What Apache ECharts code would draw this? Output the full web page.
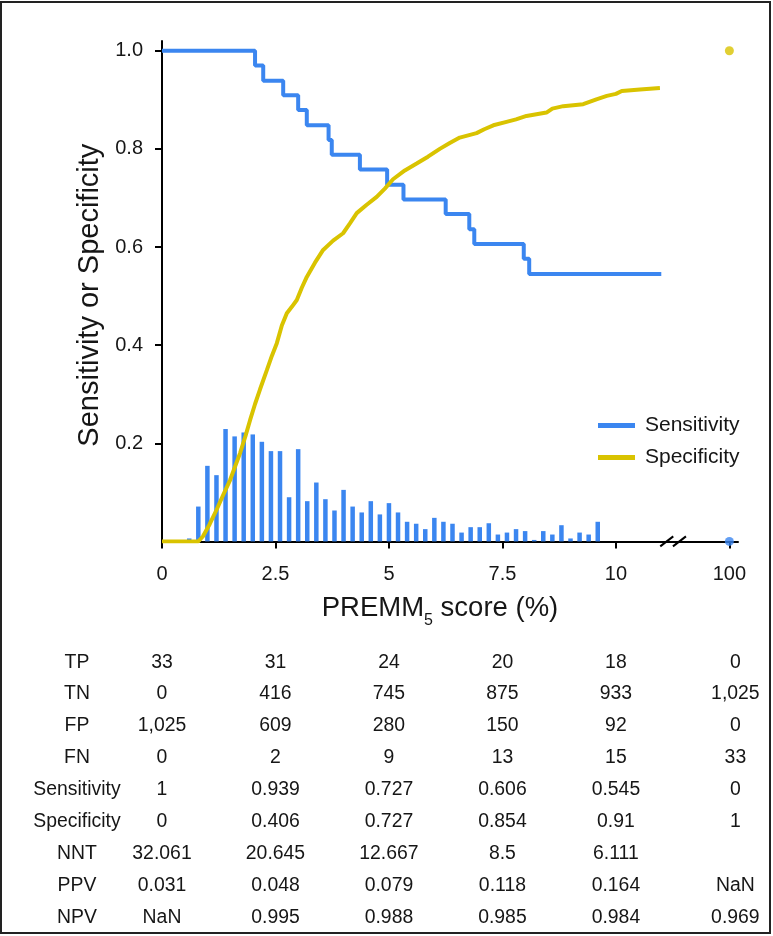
<!DOCTYPE html>
<html><head><meta charset="utf-8">
<script src="https://cdn.jsdelivr.net/npm/echarts@6/dist/echarts.min.js"></script>
<style>
html,body{margin:0;padding:0;background:#fff}
#c{width:773px;height:936px}
#frame{position:absolute;left:0;top:1px;width:771px;height:933px;border:2px solid #222;box-sizing:border-box;pointer-events:none}
</style></head>
<body><div id="c"></div><div id="frame"></div>
<script>
// ---------------- data ----------------
const xTickValues = [0, 2.5, 5, 7.5, 10, 100];
const yTickValues = [0.2, 0.4, 0.6, 0.8, 1.0];

const sensX = [0, 2.05, 2.23, 2.67, 3.0, 3.19, 3.67, 3.74, 4.36, 4.96, 5.32, 6.25, 6.77, 6.88, 7.97, 8.09, 11.0];
const sensY = [1, 0.970, 0.939, 0.909, 0.879, 0.848, 0.818, 0.788, 0.758, 0.727, 0.697, 0.667, 0.636, 0.606, 0.576, 0.545, 0.545];

const specX = [0, 0.5, 0.8, 0.9, 1.05, 1.2, 1.35, 1.5, 1.6, 1.72, 1.84, 1.94, 2.05, 2.16, 2.31, 2.42, 2.53, 2.64, 2.75, 2.86, 2.97, 3.08, 3.19, 3.37, 3.55, 3.77, 3.99, 4.14, 4.29, 4.51, 4.73, 4.91, 5.09, 5.35, 5.61, 5.86, 6.12, 6.34, 6.56, 6.93, 7.1, 7.3, 7.59, 7.8, 8.03, 8.47, 8.6, 8.84, 9.28, 9.57, 9.8, 10.0, 10.13, 10.53, 10.97];
const specY = [0, 0, 0, 0.01, 0.035, 0.064, 0.095, 0.125, 0.15, 0.18, 0.215, 0.247, 0.28, 0.31, 0.349, 0.378, 0.404, 0.44, 0.465, 0.478, 0.492, 0.517, 0.539, 0.568, 0.594, 0.613, 0.628, 0.648, 0.669, 0.686, 0.702, 0.719, 0.738, 0.756, 0.770, 0.784, 0.800, 0.812, 0.823, 0.832, 0.840, 0.848, 0.855, 0.860, 0.867, 0.874, 0.882, 0.887, 0.891, 0.901, 0.908, 0.912, 0.918, 0.921, 0.924];

const endPointX = [100];
const endSens = [0];
const endSpec = [1];

const histX = [0.6, 0.8, 1.0, 1.2, 1.4, 1.6, 1.8, 2.0, 2.2, 2.4, 2.6, 2.8, 3.0, 3.2, 3.4, 3.6, 3.8, 4.0, 4.2, 4.4, 4.6, 4.8, 5.0, 5.2, 5.4, 5.6, 5.8, 6.0, 6.2, 6.4, 6.6, 6.8, 7.0, 7.2, 7.4, 7.6, 7.8, 8.0, 8.2, 8.4, 8.6, 8.8, 9.0, 9.2, 9.4, 9.6];
const histY = [0.006, 0.071, 0.154, 0.135, 0.229, 0.214, 0.222, 0.218, 0.203, 0.184, 0.184, 0.090, 0.188, 0.082, 0.120, 0.086, 0.063, 0.105, 0.071, 0.059, 0.082, 0.055, 0.078, 0.059, 0.040, 0.036, 0.025, 0.048, 0.040, 0.036, 0.018, 0.029, 0.029, 0.037, 0.014, 0.018, 0.025, 0.021, 0.003, 0.021, 0.014, 0.033, 0.006, 0.018, 0.014, 0.040];

const rowLabels = ['TP', 'TN', 'FP', 'FN', 'Sensitivity', 'Specificity', 'NNT', 'PPV', 'NPV'];
const rowTP   = ['33', '31', '24', '20', '18', '0'];
const rowTN   = ['0', '416', '745', '875', '933', '1,025'];
const rowFP   = ['1,025', '609', '280', '150', '92', '0'];
const rowFN   = ['0', '2', '9', '13', '15', '33'];
const rowSens = ['1', '0.939', '0.727', '0.606', '0.545', '0'];
const rowSpec = ['0', '0.406', '0.727', '0.854', '0.91', '1'];
const rowNNT  = ['32.061', '20.645', '12.667', '8.5', '6.111', ''];
const rowPPV  = ['0.031', '0.048', '0.079', '0.118', '0.164', 'NaN'];
const rowNPV  = ['NaN', '0.995', '0.988', '0.985', '0.984', '0.969'];
const tableRows = [rowTP, rowTN, rowFP, rowFN, rowSens, rowSpec, rowNNT, rowPPV, rowNPV];

// ---------------- styling / helpers ----------------
const BLUE = '#3b86f0';
const YELLOW = '#d9c300';
const INK = '#161616';
const FONT = "'Liberation Sans', Arial, Helvetica, sans-serif";
const BREAK_POS = 12.5;           // axis position used to display the 100 point after the break
function ax(x) { return x >= 100 ? BREAK_POS : x; }
function pairs(xs, ys) { return xs.map((x, i) => [ax(x), ys[i]]); }

const chart = echarts.init(document.getElementById('c'), null, { renderer: 'canvas' });

const option = {
  animation: false,
  backgroundColor: 'transparent',
  grid: { left: 162, right: 35, top: 40.9, bottom: 394.6, containLabel: false, outerBoundsMode: 'none' },
  legend: {
    data: ['Sensitivity', 'Specificity'],
    orient: 'vertical', left: 598, top: 415, padding: 0,
    icon: 'rect', itemWidth: 37, itemHeight: 5, itemGap: 11,
    textStyle: { fontSize: 21, color: INK, fontFamily: FONT, lineHeight: 20, padding: [0, 0, 0, 5] }
  },
  xAxis: {
    type: 'value', min: 0, max: 12.69,
    axisLine: { show: true, onZero: false, lineStyle: { color: '#000', width: 2 } },
    axisTick: { show: true, customValues: xTickValues.map(ax), length: 7, lineStyle: { color: '#000', width: 2 } },
    axisLabel: {
      customValues: xTickValues.map(ax), fontSize: 20, color: INK, fontFamily: FONT, margin: 23,
      formatter: v => (v === BREAK_POS ? '100' : String(v))
    },
    splitLine: { show: false },
    name: '{a|PREMM}{s|5}{a| score (%)}',
    nameLocation: 'middle', nameGap: 59,
    nameTextStyle: {
      padding: [0, 20, 0, 0],
      rich: {
        a: { fontSize: 27.5, color: INK, fontFamily: FONT, lineHeight: 28, padding: [0, 0, 6, 0], verticalAlign: 'bottom' },
        s: { fontSize: 16, color: INK, fontFamily: FONT, lineHeight: 16, verticalAlign: 'bottom' }
      }
    }
  },
  yAxis: {
    type: 'value', min: 0, max: 1.02,
    axisLine: { show: true, onZero: false, lineStyle: { color: '#000', width: 2 } },
    axisTick: { show: true, customValues: yTickValues, length: 7, lineStyle: { color: '#000', width: 2 } },
    axisLabel: { customValues: yTickValues, fontSize: 20, color: INK, fontFamily: FONT, margin: 19, formatter: v => v.toFixed(1) },
    splitLine: { show: false },
    name: 'Sensitivity or Specificity',
    nameLocation: 'middle', nameGap: 47,
    nameTextStyle: { fontSize: 29, color: INK, fontFamily: FONT, padding: [0, 8, 0, 0] }
  },
  series: [
    { name: 'Histogram', type: 'bar', data: pairs(histX, histY), barWidth: 4.5, itemStyle: { color: BLUE }, silent: true, z: 1 },
    { name: 'Sensitivity', type: 'line', step: 'end', data: pairs(sensX, sensY), showSymbol: false, symbol: 'none',
      lineStyle: { color: BLUE, width: 4 }, itemStyle: { color: BLUE }, z: 3 },
    { name: 'Specificity', type: 'line', data: pairs(specX, specY), showSymbol: false, symbol: 'none',
      lineStyle: { color: YELLOW, width: 4 }, itemStyle: { color: YELLOW }, z: 4 },
    { name: 'Sens100', type: 'scatter', data: pairs(endPointX, endSens), symbolSize: 9, itemStyle: { color: BLUE }, z: 5 },
    { name: 'Spec100', type: 'scatter', data: pairs(endPointX, endSpec), symbolSize: 9, itemStyle: { color: YELLOW }, z: 5 }
  ]
};
chart.setOption(option);

// ---------------- axis break marks + table (positioned from the axis scale) ----------------
const graphics = [];
[11.12, 11.4].forEach(bx => {
  const p = chart.convertToPixel({ gridIndex: 0 }, [bx, 0]);
  graphics.push({ type: 'line', z: 10, shape: { x1: p[0] - 6.5, y1: p[1] + 5, x2: p[0] + 6.5, y2: p[1] - 5 },
    style: { stroke: '#000', lineWidth: 2 } });
});
const colX = xTickValues.map((v, i) => chart.convertToPixel({ gridIndex: 0 }, [ax(v), 0])[0] + (i === xTickValues.length - 1 ? 6 : 0));
const rowY0 = 662, rowStep = 31.9, labelX = 77;
const TSTYLE = { align: 'center', verticalAlign: 'middle', font: `20px ${FONT}`, fill: INK };
function cell(text, x, y) {
  return { type: 'text', x: x, y: y, scaleX: 0.97, style: Object.assign({ text: text, x: 0, y: 0 }, TSTYLE) };
}
rowLabels.forEach((lab, r) => {
  const y = rowY0 + r * rowStep;
  graphics.push(cell(lab, labelX, y));
  tableRows[r].forEach((val, c) => {
    if (!val) return;
    graphics.push(cell(val, colX[c], y));
  });
});
chart.setOption({ graphic: graphics });
</script>
</body></html>
